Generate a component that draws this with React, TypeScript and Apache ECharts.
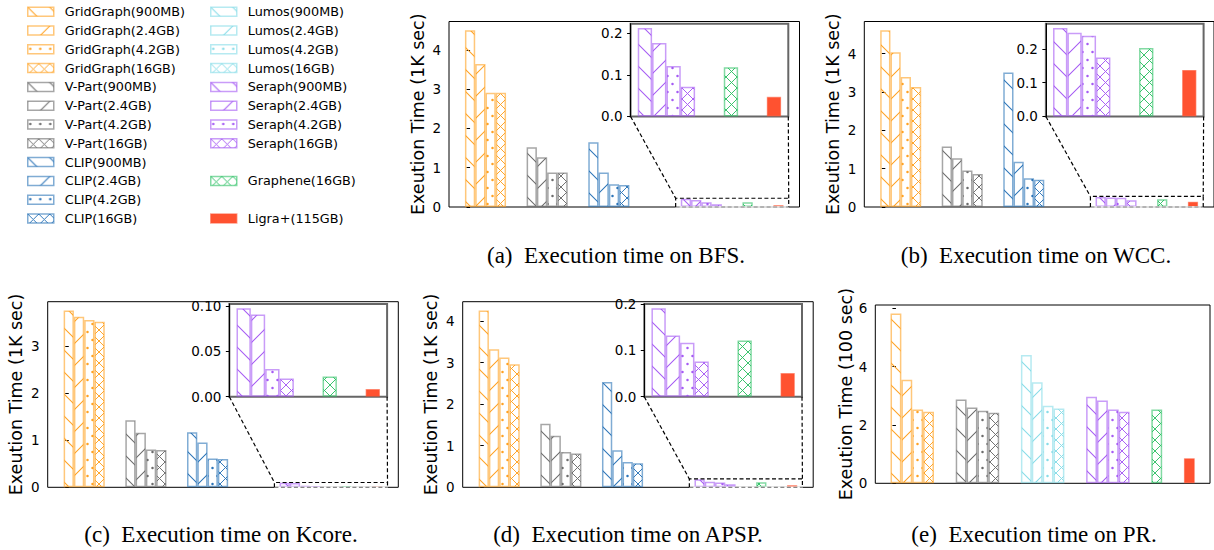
import React, { useEffect, useRef } from 'react';
import * as echarts from 'echarts';

// ---------------- data ----------------
const SIZES = ['900MB', '2.4GB', '4.2GB', '16GB'];
const HATCHES = ['back', 'fwd', 'dot', 'cross'];

// (a) BFS, 1K sec
const bfsGridGraph = [4.5, 3.64, 2.91, 2.91];
const bfsVPart = [1.52, 1.27, 0.88, 0.88];
const bfsClip = [1.65, 0.88, 0.58, 0.56];
const bfsSeraph = [0.212, 0.176, 0.121, 0.071];
const bfsGraphene = [0.118];
const bfsLigra = [0.047];
const bfsTicks = ['0', '1', '2', '3', '4'];
const bfsInsetTicks = ['0.0', '0.1', '0.2'];

// (b) WCC, 1K sec
const wccGridGraph = [4.61, 4.04, 3.39, 3.13];
const wccVPart = [1.58, 1.27, 0.95, 0.86];
const wccClip = [3.51, 1.18, 0.75, 0.71];
const wccSeraph = [0.262, 0.248, 0.239, 0.175];
const wccGraphene = [0.203];
const wccLigra = [0.138];
const wccTicks = ['0', '1', '2', '3', '4'];
const wccInsetTicks = ['0.0', '0.1', '0.2'];

// (c) Kcore, 1K sec
const kcoreGridGraph = [3.75, 3.62, 3.55, 3.51];
const kcoreVPart = [1.42, 1.155, 0.8, 0.79];
const kcoreClip = [1.17, 0.95, 0.61, 0.6];
const kcoreSeraph = [0.0974, 0.0905, 0.0304, 0.0201];
const kcoreGraphene = [0.0223];
const kcoreLigra = [0.0084];
const kcoreTicks = ['0', '1', '2', '3'];
const kcoreInsetTicks = ['0.00', '0.05', '0.10'];

// (d) APSP, 1K sec
const apspGridGraph = [4.25, 3.32, 3.12, 2.96];
const apspVPart = [1.53, 1.24, 0.85, 0.81];
const apspClip = [2.53, 0.89, 0.61, 0.58];
const apspSeraph = [0.191, 0.132, 0.1165, 0.076];
const apspGraphene = [0.1216];
const apspLigra = [0.051];
const apspTicks = ['0', '1', '2', '3', '4'];
const apspInsetTicks = ['0.0', '0.1', '0.2'];

// (e) PR, 100 sec
const prGridGraph = [5.82, 3.55, 2.53, 2.45];
const prVPart = [2.87, 2.6, 2.49, 2.42];
const prLumos = [4.4, 3.46, 2.66, 2.56];
const prSeraph = [2.97, 2.84, 2.53, 2.45];
const prGraphene = [2.53];
const prLigra = [0.86];
const prTicks = ['0', '2', '4', '6'];

const COLORS: Record<string, string> = {
  GridGraph: '#FFA122',
  'V-Part': '#6B6B6B',
  CLIP: '#2B74B8',
  Lumos: '#86DCE8',
  Seraph: '#A55AF4',
  Graphene: '#2FC166',
  'Ligra+': '#FF5230',
};

type Panel = {
  caption: string;
  yName: string;
  groups: [string, number[]][];
  graphene: number[];
  ligra: number[];
  ticks: string[];
  insetTicks: string[] | null;
};

const PANELS: Panel[] = [
  { caption: '(a)  Execution time on BFS.', yName: 'Exeution Time (1K sec)', groups: [['GridGraph', bfsGridGraph], ['V-Part', bfsVPart], ['CLIP', bfsClip], ['Seraph', bfsSeraph]], graphene: bfsGraphene, ligra: bfsLigra, ticks: bfsTicks, insetTicks: bfsInsetTicks },
  { caption: '(b)  Execution time on WCC.', yName: 'Exeution Time (1K sec)', groups: [['GridGraph', wccGridGraph], ['V-Part', wccVPart], ['CLIP', wccClip], ['Seraph', wccSeraph]], graphene: wccGraphene, ligra: wccLigra, ticks: wccTicks, insetTicks: wccInsetTicks },
  { caption: '(c)  Execution time on Kcore.', yName: 'Exeution Time (1K sec)', groups: [['GridGraph', kcoreGridGraph], ['V-Part', kcoreVPart], ['CLIP', kcoreClip], ['Seraph', kcoreSeraph]], graphene: kcoreGraphene, ligra: kcoreLigra, ticks: kcoreTicks, insetTicks: kcoreInsetTicks },
  { caption: '(d)  Execution time on APSP.', yName: 'Exeution Time (1K sec)', groups: [['GridGraph', apspGridGraph], ['V-Part', apspVPart], ['CLIP', apspClip], ['Seraph', apspSeraph]], graphene: apspGraphene, ligra: apspLigra, ticks: apspTicks, insetTicks: apspInsetTicks },
  { caption: '(e)  Execution time on PR.', yName: 'Exeution Time (100 sec)', groups: [['GridGraph', prGridGraph], ['V-Part', prVPart], ['Lumos', prLumos], ['Seraph', prSeraph]], graphene: prGraphene, ligra: prLigra, ticks: prTicks, insetTicks: null },
];

// ---------------- layout ----------------
const LAYOUT = [
  { left: 449, top: 21.5, width: 350.5, height: 185.5, nameGap: 22, capX: 616, capY: 255 },
  { left: 864.3, top: 21.5, width: 350.5, height: 185.5, nameGap: 22, capX: 1036, capY: 255 },
  { left: 47.7, top: 301.7, width: 350.6, height: 185.6, nameGap: 23, capX: 221, capY: 534 },
  { left: 462.7, top: 301.7, width: 350.5, height: 185.6, nameGap: 23, capX: 628, capY: 534 },
  { left: 875.3, top: 305, width: 334.7, height: 178.3, nameGap: 18, capX: 1034, capY: 534 },
];
const SLOTS_A = { groups: [0, 6, 12, 21], graphene: 27, ligra: 30, min: -2.05, max: 32.05 };
const SLOTS_E = { groups: [0, 6, 12, 18], graphene: 24, ligra: 27, min: -1.9, max: 28.9 };
const INSET_X = [20, 31];

const FONT = 'DejaVu Sans';

function rgba(hex: string, a: number) {
  const n = parseInt(hex.slice(1), 16);
  return `rgba(${(n >> 16) & 255},${(n >> 8) & 255},${n & 255},${a})`;
}

function hatchTile(kind: string, color: string) {
  let w = 22;
  let h = 22;
  let body = '';
  if (kind === 'back') {
    body = `<path d="M-2,-2L24,24M-2,20L4,26M20,-2L26,4" stroke="${color}" stroke-width="1.05" fill="none"/>`;
  } else if (kind === 'fwd') {
    body = `<path d="M-2,24L24,-2M-2,2L2,-2M20,24L24,20" stroke="${color}" stroke-width="1.05" fill="none"/>`;
  } else if (kind === 'dot') {
    w = 10;
    h = 16;
    body = [[2.5, 4], [7.5, 12]]
      .map(([x, y]) => `<circle cx="${x}" cy="${y}" r="1.25" fill="${color}"/>`)
      .join('');
  } else {
    w = 11;
    h = 11;
    body = `<path d="M-2,-2L13,13M-2,9L2,13M9,-2L13,2M-2,13L13,-2M-2,2L2,-2M9,13L13,9" stroke="${color}" stroke-width="0.95" fill="none"/>`;
  }
  const svg = `<svg xmlns="http://www.w3.org/2000/svg" width="${w}" height="${h}" viewBox="0 0 ${w} ${h}">${body}</svg>`;
  return {
    image: 'data:image/svg+xml;charset=utf-8,' + encodeURIComponent(svg),
    repeat: 'repeat',
    imageWidth: w,
    imageHeight: h,
  };
}

function barStyle(sys: string, hatch: string) {
  const c = COLORS[sys];
  if (hatch === 'solid') {
    return { color: c, borderColor: rgba(c, 0.55), borderWidth: 1.2 };
  }
  return { color: hatchTile(hatch, c), borderColor: rgba(c, 0.6), borderWidth: 1.5 };
}

function bar(name: string, sys: string, hatch: string, slot: number, value: number, g: number) {
  return {
    type: 'bar',
    name,
    xAxisIndex: g,
    yAxisIndex: g,
    data: [[slot, value]],
    barWidth: '100%',
    barGap: '-100%',
    silent: true,
    itemStyle: barStyle(sys, hatch),
  };
}

function panelSeries(p: Panel, g: number, slots: typeof SLOTS_A, onlyInset: boolean) {
  const out: any[] = [];
  p.groups.forEach(([sys, vals], gi) => {
    if (onlyInset && sys !== 'Seraph') return;
    vals.forEach((v, j) => {
      out.push(bar(`${sys}(${SIZES[j]})`, sys, HATCHES[j], slots.groups[gi] + j, v, g));
    });
  });
  out.push(bar('Graphene(16GB)', 'Graphene', 'cross', slots.graphene, p.graphene[0], g));
  out.push(bar('Ligra+(115GB)', 'Ligra+', 'solid', slots.ligra, p.ligra[0], g));
  return out;
}

function insetValues(p: Panel) {
  const ser = p.groups.find((gr) => gr[0] === 'Seraph')![1];
  return [...ser, ...p.graphene, ...p.ligra];
}

function allValues(p: Panel) {
  return [...p.groups.flatMap((gr) => gr[1]), ...p.graphene, ...p.ligra];
}

function yAxisFor(g: number, ticks: string[], max: number, extra: any) {
  const nums = ticks.map(Number);
  const dec = (ticks[ticks.length - 1].split('.')[1] || '').length;
  return {
    type: 'value',
    gridIndex: g,
    min: 0,
    max,
    splitLine: { show: false },
    axisTick: { show: true, inside: false, length: 3.5, lineStyle: { color: '#000', width: 1 }, customValues: nums },
    axisLabel: {
      show: true,
      margin: 8,
      fontFamily: FONT,
      fontSize: 13.5,
      color: '#000',
      customValues: nums,
      formatter: (v: number) => v.toFixed(dec),
    },
    ...extra,
  };
}

const LEG1 = ['GridGraph', 'V-Part', 'CLIP'].flatMap((s) => SIZES.map((z) => `${s}(${z})`));
const LEG2 = ['Lumos', 'Seraph'].flatMap((s) => SIZES.map((z) => `${s}(${z})`));

export default function App() {
  const ref = useRef<HTMLDivElement>(null);
  useEffect(() => {
    if (!ref.current) return;
    const chart = echarts.init(ref.current, null, { renderer: 'svg' });

    const grids: any[] = [];
    const xAxes: any[] = [];
    const yAxes: any[] = [];
    const series: any[] = [];
    const insetMax: number[] = [];

    PANELS.forEach((p, i) => {
      const L = LAYOUT[i];
      const slots = i === 4 ? SLOTS_E : SLOTS_A;
      grids.push({ left: L.left, top: L.top, width: L.width, height: L.height, show: true, borderColor: '#000', borderWidth: 1, backgroundColor: 'transparent' });
      xAxes.push({ type: 'value', gridIndex: i, min: slots.min, max: slots.max, show: false });
      yAxes.push(
        yAxisFor(i, p.ticks, Math.max(...allValues(p)) * 1.05, {
          name: p.yName,
          nameLocation: 'middle',
          nameRotate: 90,
          nameGap: L.nameGap,
          nameTextStyle: { fontFamily: FONT, fontSize: 17.5, color: '#000' },
          axisLine: { show: false },
        })
      );
      series.push(...panelSeries(p, i, slots, false));
    });

    PANELS.forEach((p, i) => {
      if (!p.insetTicks) return;
      const L = LAYOUT[i];
      const g = grids.length;
      const w = L.width * 0.45;
      const h = L.height * 0.5;
      grids.push({ left: L.left + L.width - 11.2 - w, top: L.top + 2.2, width: w, height: h, show: true, borderColor: '#666', borderWidth: 2, backgroundColor: '#fff' });
      xAxes.push({ type: 'value', gridIndex: g, min: INSET_X[0], max: INSET_X[1], show: false });
      const m = Math.max(...insetValues(p)) * 1.05;
      insetMax.push(m);
      yAxes.push(yAxisFor(g, p.insetTicks, m, { axisLine: { show: true, lineStyle: { color: '#000', width: 1 } } }));
      series.push(...panelSeries(p, g, SLOTS_A, true));
    });

    const legendBase = {
      orient: 'vertical',
      itemWidth: 26,
      itemHeight: 9,
      itemGap: 4.8,
      icon: 'rect',
      padding: 0,
      selectedMode: false,
      itemStyle: { borderWidth: 1.5 },
      textStyle: { fontFamily: FONT, fontSize: 12.8, color: '#000', lineHeight: 14, padding: [0, 0, 0, 6] },
    };
    const PITCH = 18.8;
    const LTOP = 4.7;

    chart.setOption({
      animation: false,
      textStyle: { fontFamily: FONT },
      legend: [
        { ...legendBase, data: LEG1, left: 27, top: LTOP },
        { ...legendBase, data: LEG2, left: 210, top: LTOP },
        { ...legendBase, data: ['Graphene(16GB)'], left: 210, top: LTOP + 9 * PITCH },
        { ...legendBase, data: ['Ligra+(115GB)'], left: 210, top: LTOP + 11 * PITCH },
      ],
      grid: grids,
      xAxis: xAxes,
      yAxis: yAxes,
      series,
    });

    const elements: any[] = [];
    PANELS.forEach((p, i) => {
      elements.push({
        type: 'text',
        x: LAYOUT[i].capX,
        y: LAYOUT[i].capY,
        z: 100,
        silent: true,
        style: { text: p.caption, fontFamily: 'Liberation Serif', fontSize: 23, fill: '#000', align: 'center', verticalAlign: 'middle' },
      });
    });
    insetMax.forEach((m, k) => {
      const gi = 5 + k;
      const px = (g: number, x: number, y: number) => chart.convertToPixel({ gridIndex: g } as any, [x, y]) as number[];
      const bl = px(gi, INSET_X[0], 0);
      const br = px(gi, INSET_X[1], 0);
      const rtl = px(k, INSET_X[0], m);
      const rtr = px(k, INSET_X[1], m);
      const rbl = px(k, INSET_X[0], 0);
      const rbr = px(k, INSET_X[1], 0);
      const dash = { stroke: '#000', lineWidth: 1.2, lineDash: [4, 2.5] };
      elements.push({ type: 'line', z: 99, silent: true, shape: { x1: rbl[0], y1: rbl[1], x2: rbr[0], y2: rbr[1] }, style: { stroke: '#fff', lineWidth: 1.6 } });
      elements.push({ type: 'line', z: 100, silent: true, shape: { x1: rbl[0], y1: rbl[1], x2: rbr[0], y2: rbr[1] }, style: { ...dash, stroke: '#888' } });
      elements.push({ type: 'polyline', z: 100, silent: true, shape: { points: [rbl, rtl, rtr, rbr] }, style: { ...dash } });
      elements.push({ type: 'line', z: 100, silent: true, shape: { x1: bl[0], y1: bl[1], x2: rtl[0], y2: rtl[1] }, style: { ...dash } });
      elements.push({ type: 'line', z: 100, silent: true, shape: { x1: br[0], y1: br[1], x2: rtr[0], y2: rtr[1] }, style: { ...dash } });
    });
    chart.setOption({ graphic: { elements } });

    return () => chart.dispose();
  }, []);

  return <div ref={ref} style={{ position: 'fixed', left: 0, top: 0, width: 1214, height: 550, background: '#fff' }} />;
}
